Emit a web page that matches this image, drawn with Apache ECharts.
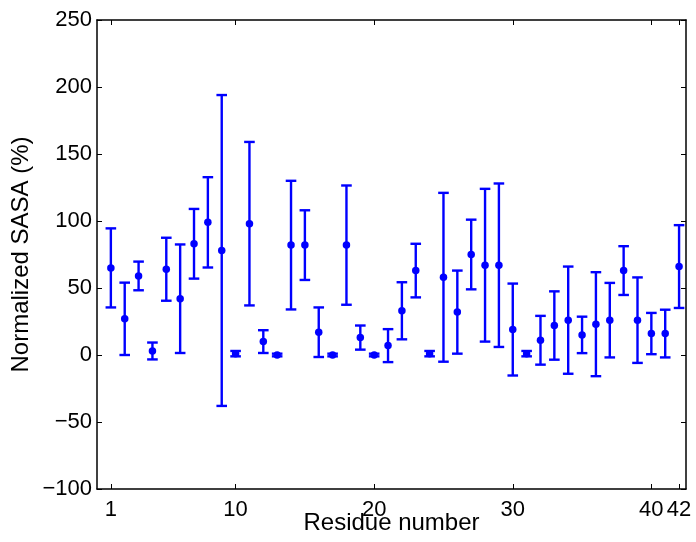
<!DOCTYPE html>
<html>
<head>
<meta charset="utf-8">
<script src="https://cdn.jsdelivr.net/npm/echarts@6/dist/echarts.min.js"></script>
<style>html,body{margin:0;padding:0;background:#fff}#c{width:696px;height:542px}</style>
</head>
<body>
<div id="c"></div>
<script>
const residues = [1,2,3,4,5,6,7,8,9,10,11,12,13,14,15,16,17,18,19,20,21,22,23,24,25,26,27,28,29,30,31,32,33,34,35,36,37,38,39,40,41,42];
const means = [65,27,59,3,64,42,83,99,78,1,98,10,0,82,82,17,0,82,13,0,7,33,63,1,58,32,75,67,67,19,1,11,22,26,15,23,26,63,26,16,16,66];
const errors = [29.5,27,10.7,6.3,23.5,40.5,26,33.7,116,2,61,8.5,1,48,26,18.5,1,44.5,9,1,12.3,21.3,20,2,63,31,26,57,61,34.3,2,18.2,25.5,40,13.6,38.8,27.8,18.2,31.9,15.4,17.8,30.9];
const xTicks = [1,10,20,30,40,42];

const barData = residues.map((r,i)=>[r, means[i], errors[i]]);
const ptData = residues.map((r,i)=>[r, means[i]]);
const blue = '#0000ff';
const font = 'Liberation Sans, Arial, Helvetica, sans-serif';
const fmt = v => String(v).replace('-', '\u2212');

const chart = echarts.init(document.getElementById('c'), null, {renderer:'canvas'});
chart.setOption({
  animation:false,
  grid:{left:97,right:10,top:20,bottom:53,containLabel:false,outerBoundsMode:'none'},
  xAxis:[{
    type:'value',min:0,max:42.5,
    name:'Residue number',nameLocation:'middle',nameGap:22,nameMoveOverlap:false,
    nameTextStyle:{fontFamily:font,fontSize:24,color:'#000'},
    axisLine:{show:true,onZero:false,lineStyle:{color:'#000',width:1.5}},
    axisTick:{show:true,inside:true,length:5,customValues:xTicks,lineStyle:{color:'#000'}},
    axisLabel:{fontFamily:font,fontSize:22,color:'#000',margin:10,customValues:xTicks,formatter:fmt,hideOverlap:false},
    splitLine:{show:false}
  },{
    type:'value',min:0,max:42.5,position:'top',
    axisLine:{show:true,onZero:false,lineStyle:{color:'#000',width:1.5}},
    axisTick:{show:true,inside:true,length:5,customValues:xTicks,lineStyle:{color:'#000'}},
    axisLabel:{show:false},splitLine:{show:false}
  }],
  yAxis:[{
    type:'value',min:-100,max:250,interval:50,
    name:'Normalized SASA (%)',nameLocation:'middle',nameGap:64,nameMoveOverlap:false,
    nameTextStyle:{fontFamily:font,fontSize:24,color:'#000'},
    axisLine:{show:true,onZero:false,lineStyle:{color:'#000',width:1.5}},
    axisTick:{show:true,inside:true,length:5,lineStyle:{color:'#000'}},
    axisLabel:{fontFamily:font,fontSize:22,color:'#000',margin:5,formatter:fmt},
    splitLine:{show:false}
  },{
    type:'value',min:-100,max:250,interval:50,position:'right',
    axisLine:{show:true,onZero:false,lineStyle:{color:'#000',width:1.5}},
    axisTick:{show:true,inside:true,length:5,lineStyle:{color:'#000'}},
    axisLabel:{show:false},splitLine:{show:false}
  }],
  series:[{
    type:'custom',
    data:barData,
    renderItem:function(params, api){
      const x = api.value(0), m = api.value(1), e = api.value(2);
      const top = api.coord([x, m+e]);
      const bot = api.coord([x, m-e]);
      const hw = 5.3;
      const st = {stroke:blue,lineWidth:2.4};
      return {type:'group',children:[
        {type:'line',shape:{x1:top[0],y1:top[1],x2:bot[0],y2:bot[1]},style:st},
        {type:'line',shape:{x1:top[0]-hw,y1:top[1],x2:top[0]+hw,y2:top[1]},style:st},
        {type:'line',shape:{x1:bot[0]-hw,y1:bot[1],x2:bot[0]+hw,y2:bot[1]},style:st}
      ]};
    },
    encode:{x:0,y:1},
    z:2
  },{
    type:'scatter',data:ptData,symbol:'circle',symbolSize:7.5,
    itemStyle:{color:blue,opacity:1},z:3
  }]
});
</script>
</body>
</html>
